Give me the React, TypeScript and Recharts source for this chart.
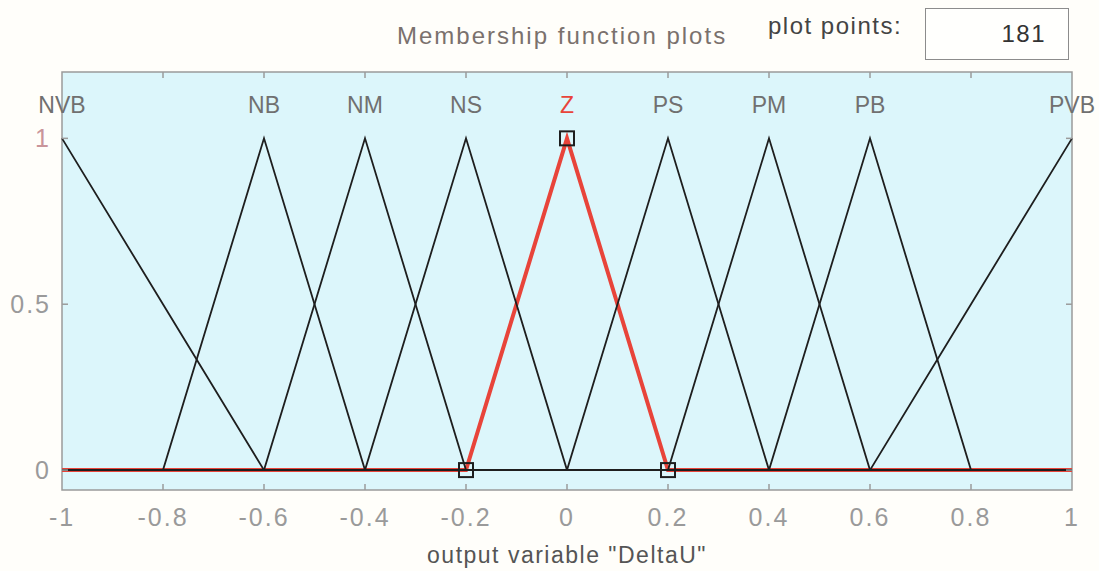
import React from "react";
import {
  ComposedChart,
  Line,
  Scatter,
  XAxis,
  YAxis,
  ReferenceArea,
  Label,
} from "recharts";

// Input points of the output variable universe
const xs = [-1, -0.8, -0.6, -0.4, -0.2, 0, 0.2, 0.4, 0.6, 0.8, 1];

// Membership degrees of each term at the points above
const NVB = [1, 0.5, 0, 0, 0, 0, 0, 0, 0, 0, 0];
const NB = [0, 0, 1, 0, 0, 0, 0, 0, 0, 0, 0];
const NM = [0, 0, 0, 1, 0, 0, 0, 0, 0, 0, 0];
const NS = [0, 0, 0, 0, 1, 0, 0, 0, 0, 0, 0];
const Z = [0, 0, 0, 0, 0, 1, 0, 0, 0, 0, 0];
const PS = [0, 0, 0, 0, 0, 0, 1, 0, 0, 0, 0];
const PM = [0, 0, 0, 0, 0, 0, 0, 1, 0, 0, 0];
const PB = [0, 0, 0, 0, 0, 0, 0, 0, 1, 0, 0];
const PVB = [0, 0, 0, 0, 0, 0, 0, 0, 0, 0.5, 1];

// Term names and where each one peaks
const termNames = ["NVB", "NB", "NM", "NS", "Z", "PS", "PM", "PB", "PVB"];
const termPeaks = [-1, -0.6, -0.4, -0.2, 0, 0.2, 0.4, 0.6, 1];

// Corner points of the selected term (Z)
const selectedX = [-0.2, 0, 0.2];
const selectedY = [0, 1, 0];

const xTicks = [-1, -0.8, -0.6, -0.4, -0.2, 0, 0.2, 0.4, 0.6, 0.8, 1];
const yTicks = [0, 0.5, 1];
const plotPoints = 181;

const series: Record<string, number[]> = { NVB, NB, NM, NS, Z, PS, PM, PB, PVB };
const rows = xs.map((x, i) => {
  const row: Record<string, number> = { x };
  termNames.forEach((n) => (row[n] = series[n][i]));
  return row;
});
const labelRows = termNames.map((name, i) => ({ x: termPeaks[i], y: 1.1, name }));
const cornerRows = selectedX.map((x, i) => ({ x, y: selectedY[i] }));

const FONT = '"Liberation Sans", Arial, sans-serif';
const TICK_COLOR = "#9a9a9a";
const FRAME = "#9b9b9b";
const RED = "#e8443a";
const INK = "#1e1e1e";

// plot box in pixels
const PLOT = { left: 62, top: 72, right: 1072, bottom: 490 };

// bottom tick: inward mark on bottom and top frame plus the value
const BottomTick = (props: any) => {
  const { x, y, payload } = props;
  const inner = payload.value > -1 && payload.value < 1;
  const top = y - (PLOT.bottom - PLOT.top);
  return (
    <g>
      {inner && <line x1={x} x2={x} y1={y} y2={y - 6} stroke={FRAME} strokeWidth={1.5} />}
      {inner && <line x1={x} x2={x} y1={top} y2={top + 6} stroke={FRAME} strokeWidth={1.5} />}
      <text
        x={x}
        y={y + 27}
        textAnchor="middle"
        dominantBaseline="central"
        fill={TICK_COLOR}
        fontSize={25}
        letterSpacing={2}
        fontFamily={FONT}
      >
        {payload.value}
      </text>
    </g>
  );
};

// left tick: inward mark on left and right frame plus the value
const LeftTick = (props: any) => {
  const { x, y, payload } = props;
  const right = x + (PLOT.right - PLOT.left);
  return (
    <g>
      <line x1={x} x2={x + 6} y1={y} y2={y} stroke={FRAME} strokeWidth={1.5} />
      <line x1={right} x2={right - 6} y1={y} y2={y} stroke={FRAME} strokeWidth={1.5} />
      <text
        x={x - 11}
        y={y}
        textAnchor="end"
        dominantBaseline="central"
        fill={payload.value === 1 ? "#c9959a" : TICK_COLOR}
        fontSize={25}
        letterSpacing={2}
        fontFamily={FONT}
      >
        {payload.value}
      </text>
    </g>
  );
};

const TermLabel = (props: any) => {
  const { cx, cy, payload } = props;
  return (
    <text
      x={cx}
      y={cy}
      textAnchor="middle"
      dominantBaseline="central"
      fill={payload.name === "Z" ? RED : "#707070"}
      fontSize={23}
      fontFamily={FONT}
    >
      {payload.name}
    </text>
  );
};

const Corner = (props: any) => {
  const { cx, cy } = props;
  return <rect x={cx - 7} y={cy - 7} width={14} height={14} fill="none" stroke={INK} strokeWidth={2} />;
};

export default function App() {
  return (
    <div
      style={{
        position: "absolute",
        left: 0,
        top: 0,
        width: 1099,
        height: 571,
        background: "#fffefa",
        fontFamily: FONT,
      }}
    >
      <div
        style={{
          position: "absolute",
          left: 397,
          top: 22,
          fontSize: 24,
          letterSpacing: 2,
          color: "#7a716d",
          whiteSpace: "nowrap",
        }}
      >
        Membership function plots
      </div>
      <div
        style={{
          position: "absolute",
          left: 768,
          top: 12,
          fontSize: 24,
          letterSpacing: 1.5,
          color: "#444",
          whiteSpace: "nowrap",
        }}
      >
        plot points:
      </div>
      <div
        style={{
          position: "absolute",
          left: 925,
          top: 8,
          width: 144,
          height: 52,
          boxSizing: "border-box",
          border: "1.5px solid #8c8c8c",
          background: "#fffffd",
          fontSize: 24,
          letterSpacing: 1.5,
          color: "#333",
          textAlign: "right",
          paddingRight: 22,
          lineHeight: "50px",
        }}
      >
        {plotPoints}
      </div>
      <ComposedChart
        width={1099}
        height={571}
        data={rows}
        margin={{ top: PLOT.top, right: 1099 - PLOT.right, bottom: 0, left: 0 }}
        style={{ position: "absolute", left: 0, top: 0 }}
      >
        <XAxis
          dataKey="x"
          type="number"
          domain={[-1, 1]}
          ticks={xTicks}
          height={571 - PLOT.bottom}
          tickSize={0}
          tickMargin={0}
          tickLine={false}
          axisLine={false}
          tick={BottomTick}
          interval={0}
        >
          <Label
            value={'output variable "DeltaU"'}
            position="insideBottom"
            offset={8}
            fill="#555"
            fontSize={23}
            letterSpacing={1.5}
            fontFamily={FONT}
          />
        </XAxis>
        <YAxis
          type="number"
          domain={[-0.06, 1.2]}
          ticks={yTicks}
          width={PLOT.left}
          tickSize={0}
          tickMargin={0}
          tickLine={false}
          axisLine={false}
          tick={LeftTick}
          interval={0}
        />
        <ReferenceArea
          x1={-1}
          x2={1}
          y1={-0.06}
          y2={1.2}
          fill="#dcf6fb"
          fillOpacity={1}
          stroke={FRAME}
          strokeWidth={1.5}
        />
        <Line
          dataKey="Z"
          type="linear"
          stroke={RED}
          strokeWidth={4}
          dot={false}
          isAnimationActive={false}
        />
        {termNames
          .filter((n) => n !== "Z")
          .map((n) => (
            <Line
              key={n}
              dataKey={n}
              type="linear"
              stroke={INK}
              strokeWidth={1.8}
              dot={false}
              isAnimationActive={false}
            />
          ))}
        <Scatter data={cornerRows} dataKey="y" shape={Corner} isAnimationActive={false} />
        <Scatter data={labelRows} dataKey="y" shape={TermLabel} isAnimationActive={false} />
      </ComposedChart>
    </div>
  );
}
